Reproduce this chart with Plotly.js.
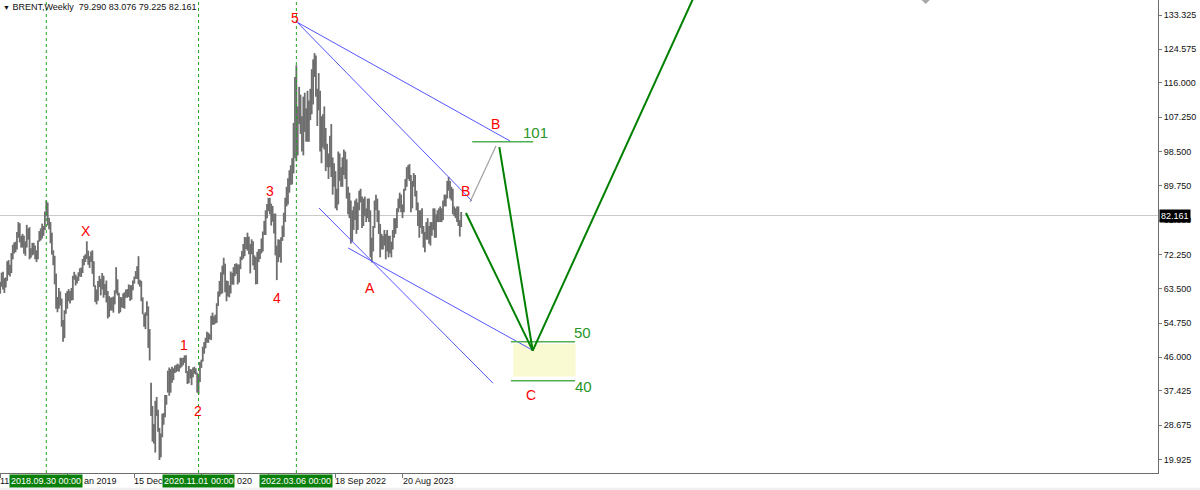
<!DOCTYPE html>
<html><head><meta charset="utf-8">
<script src="https://cdn.plot.ly/plotly-3.0.1.min.js"></script>
<style>html,body{margin:0;padding:0;background:#fff;overflow:hidden}#chart{width:1200px;height:490px}</style>
</head><body><div id="chart"></div>
<script>
// ---- data: weekly Brent high / low (weeks start 2018-02-11) ----
const firstWeek = '2018-02-11';
const hi2018 = [65.3,67.6,67.8,66.2,66.4,70.5,70.8,69.6,72.6,74.7,75.3,75.5,78.0,80.5,80.2,77.0,77.5,77.0,75.6,79.8,78.9,79.2,73.8,75.2,75.2,74.5,73.3,75.8,78.2,78.9,80.1,79.5,83.2,86.0,85.5,81.6,80.5,77.8,73.3,71.9,67.4,61.4,63.7,62.8,61.0,55.5,58.0];
const lo2018 = [62.2,64.0,63.3,62.4,63.8,65.5,67.0,66.6,67.5,71.0,72.5,72.8,73.5,76.5,75.3,74.0,74.0,72.4,71.9,74.0,76.0,71.0,71.4,72.0,72.2,71.0,70.3,71.0,75.5,75.8,76.3,77.0,78.5,82.0,79.6,78.7,75.1,72.2,69.5,64.6,58.4,57.5,58.4,59.2,53.8,50.0,50.9];
const hi2019 = [62.4,62.9,63.4,62.9,63.7,66.8,67.8,67.1,66.6,67.7,68.7,68.9,71.1,71.9,72.3,75.6,73.2,71.8,73.0,73.3,70.5,64.4,63.3,65.5,66.8,66.0,67.5,66.8,64.7,65.6,62.9,61.6,61.2,61.3,61.5,63.1,69.0,65.9,62.5,61.4,61.3,62.3,62.6,63.3,63.4,64.6,64.4,64.4,65.6,66.6,68.0,69.2];
const lo2019 = [57.1,58.4,60.3,59.7,60.5,60.6,65.8,64.3,64.8,65.5,66.6,66.5,67.5,69.5,70.3,71.1,69.6,68.8,70.3,67.3,64.0,60.1,59.5,60.4,63.9,61.8,63.3,61.2,61.9,60.0,55.9,56.3,57.9,58.0,57.4,59.5,62.3,61.8,57.2,57.5,58.7,58.6,58.4,61.2,61.2,61.4,60.4,60.7,63.1,64.8,66.0,66.0];
const hi2020 = [71.8,65.8,65.5,61.3,57.1,57.5,60.3,59.0,53.2,39.5,33.6,29.0,34.9,35.9,32.6,28.0,26.6,31.6,31.8,36.4,36.4,42.6,43.4,43.0,43.6,43.2,43.9,44.1,44.4,44.1,45.9,45.8,45.9,46.5,46.5,42.5,43.8,43.0,42.9,43.4,43.6,43.2,42.1,41.2,44.8,45.4,48.7,49.9,51.0,52.5,52.3,51.9];
const lo2020 = [64.6,64.0,60.3,57.0,53.8,53.2,56.6,48.4,45.2,31.0,24.5,24.0,21.7,31.0,27.0,19.8,20.5,25.6,28.8,30.7,33.9,37.0,36.2,37.0,39.5,40.2,42.0,42.2,42.5,42.3,43.2,43.6,44.0,44.6,42.0,39.2,39.4,40.6,38.9,40.9,41.8,41.6,37.0,36.6,39.7,43.3,44.9,46.9,48.3,49.7,49.7,50.6];
const hi2021 = [56.6,57.4,56.5,56.9,59.8,62.8,65.5,67.7,69.4,71.4,69.9,65.6,65.5,64.4,67.9,67.6,69.0,69.8,70.0,69.7,69.7,71.7,73.1,74.9,76.7,76.6,77.8,76.8,74.9,76.1,75.6,72.0,71.6,72.9,73.6,73.6,76.3,78.1,80.8,83.5,85.1,86.7,86.7,85.2,84.6,82.6,82.7,74.5,76.1,76.0,76.6,79.6];
const lo2021 = [50.4,54.3,54.3,54.6,54.8,59.1,61.5,62.1,62.3,67.1,62.6,60.3,61.5,61.3,62.3,64.6,64.5,66.7,67.2,64.6,65.1,68.5,70.8,71.2,71.8,73.6,73.2,72.3,67.4,72.3,69.4,68.3,64.6,64.7,70.3,71.1,72.5,73.0,77.2,77.2,81.5,83.3,82.5,79.6,80.6,77.6,72.0,65.7,70.3,71.5,70.1,75.7];
const hi2022 = [82.9,86.7,89.5,91.7,93.7,95.0,96.8,105.8,117.5,120.5,110.0,115.0,113.0,107.5,112.5,113.5,109.5,114.0,111.5,114.5,119.5,122.0,123.6,123.0,114.5,118.5,114.0,107.5,108.0,110.0,104.5,100.5,98.0,102.5,105.5,97.0,95.5,93.5,89.0,98.5,98.0,94.5,97.0,99.0,98.5,96.5,89.5,88.0,86.0,83.5,84.5,86.0];
const lo2022 = [76.7,80.5,84.5,85.0,88.0,90.0,90.1,92.9,96.8,96.0,97.5,105.5,103.0,98.5,97.5,103.5,101.0,101.0,101.0,106.5,108.0,110.5,117.5,112.5,105.0,109.0,98.5,95.5,99.5,99.0,93.5,94.5,91.5,94.5,92.0,87.5,89.5,84.0,83.5,85.0,91.0,89.5,89.5,92.5,91.5,86.5,82.5,81.5,75.0,75.5,78.5,81.0];
const hi2023 = [86.5,85.5,88.5,89.0,87.0,86.5,87.0,84.0,86.5,86.5,83.5,76.5,79.5,86.0,87.5,86.5,83.5,80.0,77.5,77.0,78.5,77.5,78.5,77.0,77.0,75.5,78.5,81.5,81.5,84.0,86.5,88.0,87.5,85.0,89.0,91.5,94.5,95.0,95.3,92.5,91.0,93.0,92.5,88.5,85.5,83.5,83.5,84.0,79.5,78.0,80.5,81.5,79.5];
const lo2023 = [77.5,78.5,83.5,85.5,79.0,79.5,82.0,80.5,81.5,80.5,71.5,70.2,73.0,79.0,83.5,80.5,77.5,71.5,73.5,73.5,74.5,71.0,73.0,71.5,72.5,71.5,73.5,76.5,77.5,79.0,83.0,84.0,83.0,81.5,83.0,88.5,89.5,91.5,91.0,83.0,84.0,89.5,87.0,83.5,79.5,76.5,79.0,77.5,74.0,72.8,76.0,76.0,75.0];
const hi2024 = [80.5,80.5,84.0,84.0,82.5,83.5,84.0,84.5,84.0,86.0,87.5,87.5,91.0,92.0,91.0,89.5,89.0,84.5,84.0,84.5,84.5,81.0,83.076];
const lo2024 = [74.5,77.0,78.5,76.5,76.5,80.5,80.5,80.5,80.5,81.0,84.5,84.5,86.5,88.5,86.5,86.0,82.5,82.0,81.5,80.5,79.5,76.8,79.225];

const lastBar = ['79.290','83.076','79.225','82.161'];
const lastPrice = 82.161;
const yTickVals = [133.325,124.575,116.0,107.25,98.5,89.75,81.0,72.25,63.5,54.75,46.0,37.425,28.675,19.925];
const yTickText = ['133.325','124.575','116.000','107.250','98.500','89.750','81.000','72.250','63.500','54.750','46.000','37.425','28.675','19.925'];
const xTickWeeks = [0,48,96,144,192,240,288];
// visible parts of the date tick labels (the rest is covered by the vertical-line labels)
const xTickShown = ['11','an 2019','15 Dec','020','','18 Sep 2022','20 Aug 2023'];
const vLineWeeks = [33,142,212];
const vLineLabels = ['2018.09.30 00:00','2020.11.01 00:00','2022.03.06 00:00'];
const levels = [101,50,40];

const hi = [].concat(hi2018,hi2019,hi2020,hi2021,hi2022,hi2023,hi2024);
const lo = [].concat(lo2018,lo2019,lo2020,lo2021,lo2022,lo2023,lo2024);

const T0 = Date.parse(firstWeek + 'T00:00:00Z');
function at(w){ return new Date(Math.round(T0 + w*7*86400000)).toISOString().slice(0,19).replace('T',' '); }

const bx = [], by = [];
for (let i = 0; i < hi.length; i++) { const d = at(i); bx.push(d, d, null); by.push(lo[i], hi[i], null); }

const FONT = 'Liberation Sans, Arial, sans-serif';
const RED = '#ff0000', BLUE = 'rgb(85,85,255)', DGREEN = 'rgb(0,128,0)', LGREEN = 'rgb(80,175,80)';

const traces = [
  {type:'scatter', mode:'lines', x:bx, y:by, line:{color:'#6e6e6e', width:1.8}, hoverinfo:'skip', showlegend:false},
  {type:'scatter', mode:'markers', x:[at(662.5)], y:[137.6], marker:{symbol:'diamond', size:9, color:'#a8a8a8'}, cliponaxis:true, hoverinfo:'skip', showlegend:false}
];

const shapes = [];
shapes.push({type:'line', xref:'paper', x0:0, x1:1, yref:'y', y0:lastPrice, y1:lastPrice, line:{color:'#c8c8c8', width:1}, layer:'below'});
shapes.push({type:'rect', xref:'paper', x0:0, x1:1.05, yref:'paper', y0:-0.031, y1:-0.04, fillcolor:'#f0f0f0', line:{width:0}, layer:'below'});
shapes.push({type:'rect', x0:at(367.3), x1:at(412.0), y0:41.1, y1:49.4, fillcolor:'#fafad2', line:{width:0}, layer:'below'});
vLineWeeks.forEach(w => shapes.push({type:'line', x0:at(w), x1:at(w), yref:'paper', y0:0, y1:1, line:{color:'rgb(30,165,30)', width:1, dash:'dot'}}));
[[212.5,131.5,364.9,101.2],[212.5,131.5,337.7,85.9],[228.2,84.1,352.8,39.4],[249.0,73.9,380.7,47.9]].forEach(s =>
  shapes.push({type:'line', x0:at(s[0]), y0:s[1], x1:at(s[2]), y1:s[3], line:{color:BLUE, width:1}}));
shapes.push({type:'line', x0:at(336.3), y0:85.6, x1:at(354.9), y1:99.9, line:{color:'#a0a0a0', width:1.2}});
shapes.push({type:'line', x0:at(337.9), x1:at(381.6), y0:levels[0], y1:levels[0], line:{color:LGREEN, width:1.5}});
shapes.push({type:'line', x0:at(365.6), x1:at(411.5), y0:levels[1], y1:levels[1], line:{color:LGREEN, width:1.5}});
shapes.push({type:'line', x0:at(365.6), x1:at(411.5), y0:levels[2], y1:levels[2], line:{color:LGREEN, width:1.5}});
[[333.4,82.8,381.2,47.7],[357.3,99.6,381.2,47.7],[381.2,47.7,499.2,140.0]].forEach(s =>
  shapes.push({type:'line', x0:at(s[0]), y0:s[1], x1:at(s[2]), y1:s[3], line:{color:DGREEN, width:2}}));

const ann = [];
ann.push({xref:'paper', yref:'paper', x:0, y:1, xanchor:'left', yanchor:'top', xshift:1, yshift:0, showarrow:false,
  text:'<span style="font-size:7px">▼</span>\u00a0BRENT,Weekly\u00a0\u00a0' + lastBar.join('\u00a0'), font:{family:FONT, size:9, color:'#111'}});
// x tick labels (visible parts); fragments after a covering box start at the box's right edge
const tickShift = [-2, 15, -2, 34, 0, -2, -2];
xTickWeeks.forEach((w,i) => { if (!xTickShown[i]) return; ann.push({x:at(w), xref:'x', y:0, yref:'paper', xanchor:'left', yanchor:'top', xshift:tickShift[i], yshift:-1,
  showarrow:false, text:xTickShown[i], font:{family:FONT, size:9, color:'#111'}}); });
vLineWeeks.forEach((w,i) => ann.push({x:at(w), xref:'x', y:0, yref:'paper', xanchor:'center', yanchor:'top', yshift:-1,
  showarrow:false, text:vLineLabels[i], bgcolor:'rgb(10,128,10)', borderpad:1, font:{family:FONT, size:9, color:'#ffffff'}}));
ann.push({xref:'paper', x:1, yref:'y', y:lastPrice, xanchor:'left', yanchor:'middle', xshift:1, showarrow:false,
  text:'82.161', bgcolor:'#000000', borderpad:1, font:{family:FONT, size:9, color:'#ffffff'}});
[['X',61.2,78.2],['1',131.8,49.1],['2',141.8,32.3],['3',193.1,88.5],['4',197.9,61.2],['5',211.0,132.6],
 ['A',264.7,63.7],['B',354.2,105.5],['B',333.2,88.5],['C',380.0,36.4]].forEach(l =>
  ann.push({x:at(l[1]), y:l[2], showarrow:false, text:l[0], font:{family:FONT, size:14, color:RED}}));
[['101',383.3,103.3],['50',417.0,52.4],['40',417.9,38.5]].forEach(l =>
  ann.push({x:at(l[1]), y:l[2], showarrow:false, text:l[0], font:{family:FONT, size:15, color:'rgb(40,150,40)'}}));

const layout = {
  width:1200, height:490, margin:{l:0, r:42, t:0, b:17},
  paper_bgcolor:'#ffffff', plot_bgcolor:'#ffffff', showlegend:false, hovermode:false,
  xaxis:{type:'date', range:[at(-0.143), at(828.8)], tickvals:xTickWeeks.map(at), showticklabels:false,
    ticks:'outside', ticklen:4, tickcolor:'#777', showgrid:false, zeroline:false, showline:true, linecolor:'#6d6d6d', linewidth:1, fixedrange:true},
  yaxis:{side:'right', range:[16.49, 137.151], tickvals:yTickVals, ticktext:yTickText, ticks:'outside', ticklen:3, tickcolor:'#777',
    tickfont:{family:FONT, size:9, color:'#111'}, showgrid:false, zeroline:false, showline:true, linecolor:'#6d6d6d', linewidth:1, fixedrange:true},
  shapes:shapes, annotations:ann
};
Plotly.newPlot('chart', traces, layout, {displayModeBar:false, staticPlot:true});
</script></body></html>
